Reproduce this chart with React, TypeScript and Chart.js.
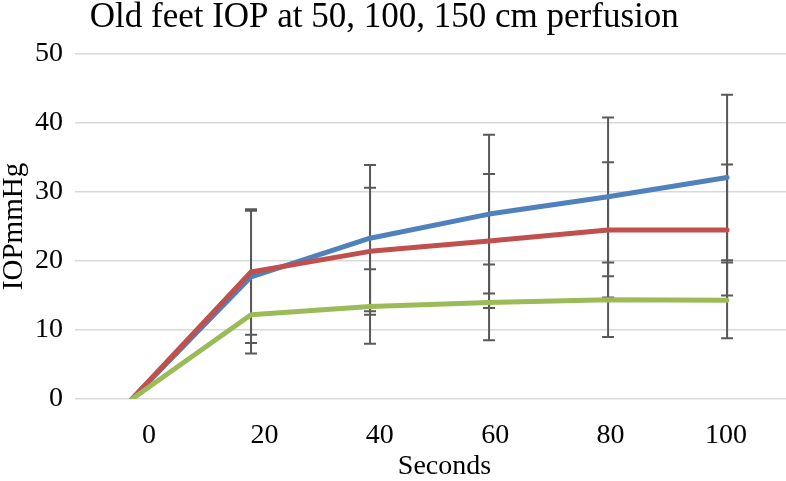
import React, { useEffect, useRef } from "react";
import { Chart, registerables } from "chart.js";

Chart.register(...registerables);

const seconds = [0, 20, 40, 60, 80, 100];
const tickLabels = [0, 20, 40, 60, 80, 100];

const series150 = [0, 17.7, 23.3, 26.8, 29.3, 32.1];
const err150 = [0, 9.6, 10.6, 11.5, 11.5, 12.0];
const series100 = [0, 18.4, 21.4, 22.9, 24.5, 24.5];
const err100 = [0, 9.1, 9.2, 9.7, 9.8, 9.5];
const series50 = [0, 12.2, 13.4, 14.0, 14.4, 14.3];
const err50 = [0, 5.6, 5.4, 5.5, 5.4, 5.5];

const FONT = "'Liberation Serif', 'Times New Roman', serif";

const errorBarPlugin = {
  id: "errorBars",
  beforeDatasetsDraw(chart: any) {
    const ctx = chart.ctx;
    const xs = chart.scales.x;
    const ys = chart.scales.y;
    ctx.save();
    ctx.strokeStyle = "#595959";
    ctx.lineWidth = 2;
    chart.data.datasets.forEach((ds: any) => {
      const errs: number[] = ds.errors || [];
      ds.data.forEach((p: any, i: number) => {
        const e = errs[i];
        if (!e) return;
        const px = xs.getPixelForValue(p.x);
        const top = ys.getPixelForValue(p.y + e);
        const bot = ys.getPixelForValue(p.y - e);
        ctx.beginPath();
        ctx.moveTo(px, top);
        ctx.lineTo(px, bot);
        ctx.moveTo(px - 6, top);
        ctx.lineTo(px + 6, top);
        ctx.moveTo(px - 6, bot);
        ctx.lineTo(px + 6, bot);
        ctx.stroke();
      });
    });
    ctx.restore();
  },
};

function toPoints(vals: number[]) {
  return vals.map((v, i) => ({ x: seconds[i], y: v }));
}

export default function App() {
  const ref = useRef<HTMLCanvasElement | null>(null);
  useEffect(() => {
    if (!ref.current) return;
    const lineCommon = {
      borderWidth: 5,
      pointRadius: 0,
      tension: 0,
      borderCapStyle: "round" as const,
      borderJoinStyle: "round" as const,
      fill: false,
    };
    const chart = new Chart(ref.current, {
      type: "line",
      data: {
        datasets: [
          { label: "50 cm", data: toPoints(series50), errors: err50, borderColor: "#9BBB59", backgroundColor: "#9BBB59", ...lineCommon } as any,
          { label: "100 cm", data: toPoints(series100), errors: err100, borderColor: "#C0504D", backgroundColor: "#C0504D", ...lineCommon } as any,
          { label: "150 cm", data: toPoints(series150), errors: err150, borderColor: "#4F81BD", backgroundColor: "#4F81BD", ...lineCommon } as any,
        ],
      },
      options: {
        animation: false,
        responsive: true,
        maintainAspectRatio: false,
        layout: { padding: 0 },
        plugins: {
          legend: { display: false },
          tooltip: { enabled: false },
          title: {
            display: true,
            text: "Old feet IOP at 50, 100, 150 cm perfusion  ",
            color: "#000",
            font: { family: FONT, size: 35, weight: "normal", lineHeight: 1 },
            padding: { top: 0, bottom: 19 },
          },
        },
        scales: {
          x: {
            type: "linear",
            min: -9.58,
            max: 109.9,
            display: false,
          },
          x2: {
            type: "linear",
            position: "bottom",
            min: -12.82,
            max: 110.4,
            grid: { display: false, drawTicks: false },
            border: { display: false },
            afterBuildTicks: (axis: any) => {
              axis.ticks = tickLabels.map((v) => ({ value: v }));
            },
            ticks: {
              color: "#000",
              padding: 23,
              maxRotation: 0,
              autoSkip: false,
              font: { family: FONT, size: 28, lineHeight: 1 },
            },
            title: {
              display: true,
              text: "    Seconds",
              color: "#000",
              font: { family: FONT, size: 28, lineHeight: 1 },
              padding: { top: -20, bottom: 0 },
            },
          },
          y: {
            type: "linear",
            min: 0,
            max: 50,
            grid: { color: "#d9d9d9", lineWidth: 1.5, drawTicks: false },
            border: { display: false },
            ticks: {
              stepSize: 10,
              color: "#000",
              padding: 12,
              font: { family: FONT, size: 28, lineHeight: 1 },
            },
            title: {
              display: true,
              text: "IOPmmHg",
              color: "#000",
              font: { family: FONT, size: 29, lineHeight: 1 },
              padding: { top: 0, bottom: -6 },
            },
          },
        },
      } as any,
      plugins: [errorBarPlugin],
    });
    return () => chart.destroy();
  }, []);
  return (
    <div style={{ position: "fixed", left: 0, top: 0, width: 786, height: 481, background: "#fff" }}>
      <canvas ref={ref} />
    </div>
  );
}
